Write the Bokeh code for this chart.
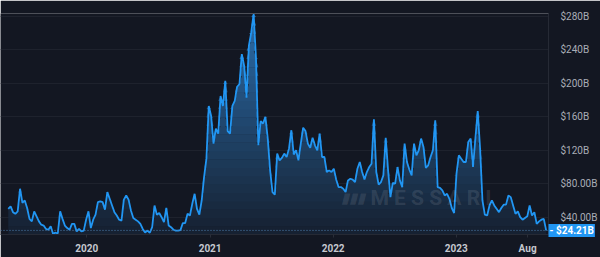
import numpy as np
import pandas as pd
from bokeh.plotting import figure
from bokeh.models import Range1d, Span, Label
from bokeh.embed import file_html
from bokeh.resources import INLINE

# ---- data (weekly volume, billions USD) ----
start_date = "2019-05-13"
vol_2019 = [50, 53, 46, 44, 47, 74, 57, 60, 51, 38, 35, 47, 41, 35, 31, 30, 26, 25, 29, 20,
            21.5, 20.5, 47, 38, 30, 27, 25, 32, 32, 23, 26, 23, 24]
vol_2020 = [37, 47, 27, 37, 43, 58, 59, 58, 49, 70, 62, 54, 46, 42, 37, 36, 61, 66, 61, 48,
            39, 37, 35, 32, 26, 21.7, 24, 21.4, 28, 54, 43, 45, 40, 34, 51, 30, 28, 25, 24, 24,
            24.5, 33, 33, 44, 42, 56, 68, 50, 43, 60, 88, 110]
vol_2021 = [173, 161, 128, 146, 140, 185, 173, 203, 143, 140, 173, 179, 196, 199, 235, 221, 183,
            245, 261, 283, 231, 126, 155, 152, 160, 134, 96, 70, 67, 116, 108, 111, 116, 112, 122,
            144, 115, 120, 108, 128, 147, 143, 128, 123, 135, 126, 120, 140, 112, 112, 94, 96]
vol_2022 = [94, 98, 85, 76, 76, 74, 70, 84, 86, 85, 82, 98, 106, 94, 85, 94, 100, 104, 157, 94,
            79, 82, 90, 135, 96, 64, 81, 80, 100, 84, 76, 128, 106, 97, 90, 128, 114, 120, 134, 124,
            99, 102, 112, 120, 156, 76, 75, 72, 66, 68, 62, 51]
vol_2023 = [45, 92, 114, 110, 106, 106, 130, 134, 100, 134, 167, 122, 60, 43, 42, 54, 60, 54, 50,
            46, 51, 55, 55, 66, 64, 54, 44, 47, 40, 37, 39, 41, 54, 42, 46, 32, 35, 37, 38, 24.21]

last_value = 24.21
last_label = "- $24.21B"
y_ticks = [40, 80, 120, 160, 200, 240, 280]
y_tick_labels = ["$40.00B", "$80.00B", "$120B", "$160B", "$200B", "$240B", "$280B"]
x_tick_dates = ["2020-01-01", "2021-01-01", "2022-01-01", "2023-01-01", "2023-08-01"]
x_tick_labels = ["2020", "2021", "2022", "2023", "Aug"]

values = np.array(vol_2019 + vol_2020 + vol_2021 + vol_2022 + vol_2023, dtype=float)
dates = pd.date_range(start_date, periods=len(values), freq="7D")

BG = "#131722"
LINE = "#2196f3"
FONT = "Roboto"


def ms(d):
    return int(pd.Timestamp(d).value // 10**6)


x_start, x_end = ms("2019-04-20"), ms("2023-10-02")
y_start, y_end = 19.3, 283.6

p = figure(width=600, height=257, x_axis_type="datetime", y_axis_location="right",
           x_range=Range1d(x_start, x_end), y_range=Range1d(y_start, y_end),
           toolbar_location=None, output_backend="svg",
           min_border_left=0, min_border_top=0, min_border_right=48, min_border_bottom=23,
           background_fill_color=BG, border_fill_color=BG, outline_line_color=None)

# gradient-like fill made of horizontal colour bands under the line
levels = np.arange(y_start, y_end + 10, 10.0)
c_lo = np.array([22, 32, 48])
c_hi = np.array([44, 112, 175])
for i in range(len(levels) - 1):
    lo, hi = levels[i], levels[i + 1]
    if values.max() <= lo:
        break
    t = (0.5 * (lo + hi) - y_start) / (290 - y_start)
    c = (c_lo + (c_hi - c_lo) * min(t, 1.0)).astype(int)
    col = "#%02x%02x%02x" % tuple(c)
    top = np.clip(values, lo, hi)
    bottom = np.where(values > lo, lo - 0.4, lo) if i else np.full(len(values), lo)
    p.varea(x=dates, y1=bottom, y2=top, fill_color=col, fill_alpha=1.0)

p.add_layout(Span(location=last_value, dimension="width", line_color="#4f7fb0",
                  line_dash="1 2", line_width=1))

p.line(dates, values, line_color=LINE, line_width=1.8)

# watermark
span_x = x_end - x_start
p.add_layout(Label(x=x_start + 0.621 * span_x, y=63.5, text="▮▮▮", text_font=FONT,
                   text_font_size="15px", text_font_style="italic", text_color="#c0c4cc",
                   text_alpha=0.13, text_baseline="middle"))
p.add_layout(Label(x=x_start + 0.675 * span_x, y=63.5, text="M  E  S  S  A  R  I",
                   text_font=FONT, text_font_size="21px", text_font_style="bold",
                   text_color="#c0c4cc", text_alpha=0.15, text_baseline="middle"))

# last value tag: attached to the top side panel so it is not clipped to the plot frame
p.add_layout(Label(x=x_end, y=last_value, text=last_label, text_font=FONT,
                   text_font_size="10px", text_font_style="bold", text_color="white",
                   text_baseline="middle", text_align="left",
                   background_fill_color=LINE, padding=1), "above")

# axes
p.yaxis.ticker = y_ticks
p.yaxis.major_label_overrides = dict(zip(y_ticks, y_tick_labels))
p.yaxis.major_label_text_font = FONT
p.yaxis.major_label_text_font_size = "10px"
p.yaxis.major_label_text_color = "#a9adb7"
p.yaxis.major_tick_line_color = None
p.yaxis.minor_tick_line_color = None
p.yaxis.axis_line_color = "#262a35"
p.yaxis.major_label_standoff = 6

x_ticks = [ms(d) for d in x_tick_dates]
p.xaxis.ticker = x_ticks
p.xaxis.major_label_overrides = dict(zip(x_ticks, x_tick_labels))
p.xaxis.major_label_text_font = FONT
p.xaxis.major_label_text_font_size = "10px"
p.xaxis.major_label_text_font_style = "bold"
p.xaxis.major_label_text_color = "#c5c8cf"
p.xaxis.major_tick_line_color = "#2a2e39"
p.xaxis.major_tick_out = 3
p.xaxis.major_tick_in = 0
p.xaxis.minor_tick_line_color = None
p.xaxis.axis_line_color = "#262a35"
p.xaxis.major_label_standoff = 5

p.xgrid.grid_line_color = None
p.ygrid.grid_line_color = "#1e222d"

open("out.html", "w").write(file_html(p, INLINE))
